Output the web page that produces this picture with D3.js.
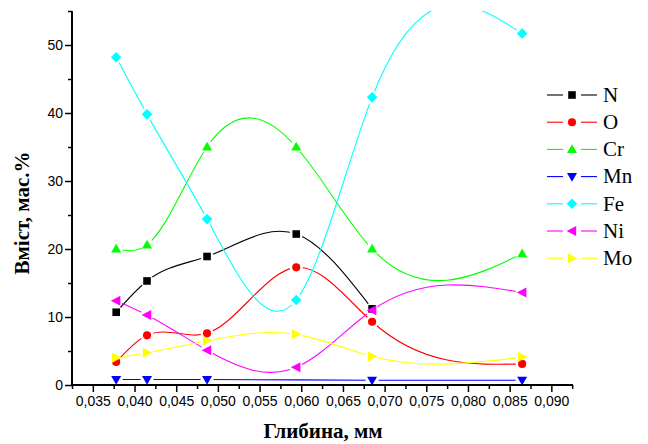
<!DOCTYPE html>
<html>
<head>
<meta charset="utf-8">
<script src="https://cdn.jsdelivr.net/npm/d3@7/dist/d3.min.js"></script>
<style>
  html, body { margin: 0; padding: 0; background: #fff; }
  svg { display: block; }
</style>
</head>
<body>
<svg id="chart" width="648" height="444"></svg>
<script>
// Depth of the measurement (mm)
const depth = [0.0378, 0.0415, 0.0487, 0.0594, 0.0685, 0.0865];

// Element content, wt.% (null = not measured at that depth)
const nValues  = [10.7, 15.3, 18.9, 22.2, 11.2, null];
const oValues  = [3.4, 7.3, 7.6, 17.3, 9.3, 3.1];
const crValues = [20.0, 20.6, 35.0, 35.0, 20.0, 19.3];
const mnValues = [0.8, 0.8, 0.8, null, 0.7, 0.7];
const feValues = [48.2, 39.8, 24.4, 12.5, 42.3, 51.7];
const niValues = [12.4, 10.3, 5.1, 2.6, 11.0, 13.6];
const moValues = [4.0, 4.75, 6.5, 7.45, 4.2, 4.1];

const seriesNames = ["N", "O", "Cr", "Mn", "Fe", "Ni", "Mo"];
const seriesValues = [nValues, oValues, crValues, mnValues, feValues, niValues, moValues];
const seriesColors = ["#000000", "#ff0000", "#00ff00", "#0000ff", "#00ffff", "#ff00ff", "#ffff00"];
const seriesSymbols = ["square", "circle", "up", "down", "diamond", "left", "right"];

const xTicks = [0.035, 0.040, 0.045, 0.050, 0.055, 0.060, 0.065, 0.070, 0.075, 0.080, 0.085, 0.090];
const yTicks = [0, 10, 20, 30, 40, 50];

const xTitle = "Глибина, мм";
const yTitle = "Вміст, мас.%";

const svg = d3.select("#chart");
const plot = { left: 72, right: 573, top: 11, bottom: 385 };

const x = d3.scaleLinear().domain([0.0325, 0.0926]).range([plot.left, plot.right]);
const y = d3.scaleLinear().domain([0, 55]).range([plot.bottom, plot.top]);

// Cubic spline with y as a function of x (natural end conditions),
// emitted as exact cubic Bezier segments.
function curveSplineX(context) {
  let pts = [];
  return {
    areaStart() {}, areaEnd() {},
    lineStart() { pts = []; },
    point(px, py) { pts.push([+px, +py]); },
    lineEnd() {
      const n = pts.length;
      if (n === 0) return;
      context.moveTo(pts[0][0], pts[0][1]);
      if (n === 1) return;
      if (n === 2) { context.lineTo(pts[1][0], pts[1][1]); return; }
      const h = [], M = new Array(n).fill(0);
      for (let i = 0; i < n - 1; i++) h.push(pts[i + 1][0] - pts[i][0]);
      // tridiagonal system for second derivatives
      const a = [], b = [], c = [], r = [];
      for (let i = 1; i < n - 1; i++) {
        a.push(h[i - 1]);
        b.push(2 * (h[i - 1] + h[i]));
        c.push(h[i]);
        r.push(6 * ((pts[i + 1][1] - pts[i][1]) / h[i] - (pts[i][1] - pts[i - 1][1]) / h[i - 1]));
      }
      const m = b.length;
      for (let i = 1; i < m; i++) {
        const w = a[i] / b[i - 1];
        b[i] -= w * c[i - 1];
        r[i] -= w * r[i - 1];
      }
      const sol = new Array(m);
      sol[m - 1] = r[m - 1] / b[m - 1];
      for (let i = m - 2; i >= 0; i--) sol[i] = (r[i] - c[i] * sol[i + 1]) / b[i];
      for (let i = 0; i < m; i++) M[i + 1] = sol[i];
      for (let i = 0; i < n - 1; i++) {
        const [x0, y0] = pts[i], [x1, y1] = pts[i + 1];
        const hi = h[i], s = (y1 - y0) / hi;
        const d0 = s - hi * (2 * M[i] + M[i + 1]) / 6;
        const d1 = s + hi * (M[i] + 2 * M[i + 1]) / 6;
        context.bezierCurveTo(x0 + hi / 3, y0 + d0 * hi / 3, x1 - hi / 3, y1 - d1 * hi / 3, x1, y1);
      }
    }
  };
}

// Marker shapes drawn around (0,0)
function symbolPath(kind) {
  switch (kind) {
    case "square":  return "M-3.8,-3.8H3.8V3.8H-3.8Z";
    case "circle":  return d3.symbol(d3.symbolCircle, 52)();
    case "up":      return "M0,-5.2L5,3.6L-5,3.6Z";
    case "down":    return "M0,5.2L5,-3.6L-5,-3.6Z";
    case "diamond": return "M0,-5.3L5.3,0L0,5.3L-5.3,0Z";
    case "left":    return "M-5.4,0L4.2,-5L4.2,5Z";
    case "right":   return "M5.4,0L-4.2,-5L-4.2,5Z";
  }
}

const defs = svg.append("defs");
defs.append("clipPath").attr("id", "plotClip")
  .append("rect")
  .attr("x", plot.left).attr("y", plot.top)
  .attr("width", plot.right - plot.left).attr("height", plot.bottom - plot.top);

const line = d3.line()
  .defined(d => d.v !== null)
  .x(d => x(d.x)).y(d => y(d.v))
  .curve(curveSplineX);

const series = seriesNames.map((name, i) => ({
  name, color: seriesColors[i], symbol: seriesSymbols[i],
  points: depth.map((d, j) => ({ x: d, v: seriesValues[i][j] })).filter(p => p.v !== null)
}));

// Each line leaves a small gap around its own markers
series.forEach((s, i) => {
  const mask = defs.append("mask").attr("id", "gap" + i)
    .attr("maskUnits", "userSpaceOnUse")
    .attr("x", 0).attr("y", 0).attr("width", 648).attr("height", 444);
  mask.append("rect").attr("width", 648).attr("height", 444).attr("fill", "#fff");
  mask.selectAll("circle").data(s.points).join("circle")
    .attr("cx", d => x(d.x)).attr("cy", d => y(d.v)).attr("r", 6.5).attr("fill", "#000");
});

const plotG = svg.append("g").attr("clip-path", "url(#plotClip)");
series.forEach((s, i) => {
  const g = plotG.append("g");
  g.append("path")
    .attr("d", line(s.points))
    .attr("fill", "none")
    .attr("stroke", s.color)
    .attr("stroke-width", 1.1)
    .attr("mask", `url(#gap${i})`);
  g.selectAll(".mk").data(s.points).join("path")
    .attr("class", "mk")
    .attr("transform", d => `translate(${x(d.x)},${y(d.v)})`)
    .attr("d", symbolPath(s.symbol))
    .attr("fill", s.color);
});

// Axes
const xMinor = d3.range(0.0325, 0.0926, 0.0025).filter(v => !xTicks.some(t => Math.abs(t - v) < 1e-6));
const yMinor = d3.range(5, 56, 10);

const axisColor = "#000";
const xAxisG = svg.append("g").attr("transform", `translate(0,${plot.bottom})`);
xAxisG.call(d3.axisBottom(x).tickValues(xTicks).tickSize(7).tickPadding(4)
  .tickFormat(d => d3.format(".3f")(d).replace(".", ",")));
xAxisG.append("g").call(d3.axisBottom(x).tickValues(xMinor).tickSize(4).tickFormat(""));
xAxisG.selectAll(".domain").remove();
xAxisG.append("line").attr("x1", plot.left - 1).attr("x2", plot.right).attr("stroke", axisColor).attr("stroke-width", 2);

const yAxisG = svg.append("g").attr("transform", `translate(${plot.left},0)`);
yAxisG.call(d3.axisLeft(y).tickValues(yTicks).tickSize(7).tickPadding(2));
yAxisG.append("g").call(d3.axisLeft(y).tickValues(yMinor).tickSize(4).tickFormat(""));
yAxisG.selectAll(".domain").remove();
yAxisG.append("line").attr("y1", plot.top).attr("y2", plot.bottom + 1).attr("stroke", axisColor).attr("stroke-width", 2);

svg.selectAll(".tick line").attr("stroke", axisColor).attr("stroke-width", 1.5);
svg.selectAll(".tick text")
  .attr("font-family", "'Liberation Sans', Arial, sans-serif")
  .attr("font-size", 14)
  .attr("fill", "#000");

// Axis titles
svg.append("text")
  .attr("x", 323).attr("y", 438)
  .attr("text-anchor", "middle")
  .attr("font-family", "'Liberation Serif', 'Times New Roman', serif")
  .attr("font-weight", "bold").attr("font-size", 21)
  .text(xTitle);

svg.append("text")
  .attr("transform", "translate(29,213) rotate(-90)")
  .attr("text-anchor", "middle")
  .attr("font-family", "'Liberation Serif', 'Times New Roman', serif")
  .attr("font-weight", "bold").attr("font-size", 21)
  .text(yTitle);

// Legend
const legend = svg.append("g");
series.forEach((s, i) => {
  const ly = 95 + i * 27.2;
  const g = legend.append("g").attr("transform", `translate(0,${ly})`);
  g.append("line").attr("x1", 547).attr("x2", 563).attr("stroke", s.color).attr("stroke-width", 1.1);
  g.append("line").attr("x1", 581).attr("x2", 597).attr("stroke", s.color).attr("stroke-width", 1.1);
  g.append("path").attr("transform", "translate(572,0)").attr("d", symbolPath(s.symbol)).attr("fill", s.color);
  g.append("text").attr("x", 603).attr("y", 6.8)
    .attr("font-family", "'Liberation Serif', 'Times New Roman', serif")
    .attr("font-size", 21).attr("fill", "#000")
    .text(s.name);
});
</script>
</body>
</html>
